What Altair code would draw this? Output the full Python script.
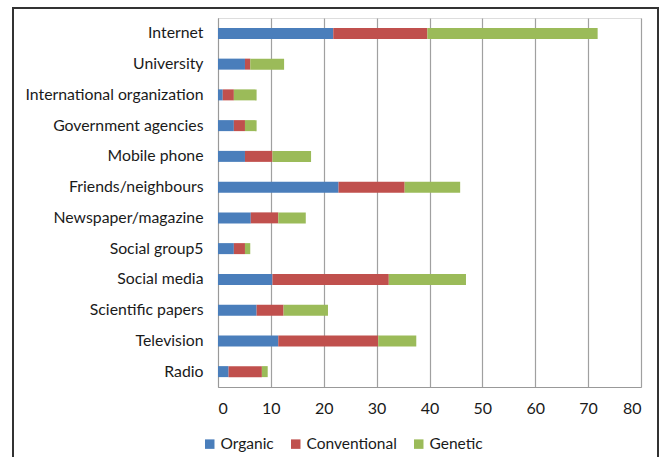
import altair as alt
import pandas as pd

categories = ["Internet", "University", "International organization", "Government agencies",
              "Mobile phone", "Friends/neighbours", "Newspaper/magazine", "Social group5",
              "Social media", "Scientific papers", "Television", "Radio"]
organic = [21.8, 5.1, 0.9, 3.0, 5.1, 22.8, 6.2, 3.0, 10.3, 7.3, 11.4, 2.0]
conventional = [17.8, 1.0, 2.1, 2.1, 5.2, 12.5, 5.2, 2.1, 22.0, 5.1, 18.9, 6.3]
genetic = [32.2, 6.4, 4.3, 2.2, 7.3, 10.5, 5.2, 1.0, 14.6, 8.4, 7.2, 1.1]
series = ["Organic", "Conventional", "Genetic"]
colors = ["#4a7ebb", "#c0504d", "#9bbb59"]

rows = []
for i, c in enumerate(categories):
    for s, vals in zip(series, [organic, conventional, genetic]):
        rows.append({"cat": c, "series": s, "value": vals[i], "order": series.index(s)})
df = pd.DataFrame(rows)

FONT = "Lato"

bars = alt.Chart(df).mark_bar(size=11).encode(
    y=alt.Y("cat:N", sort=categories, title=None,
            axis=alt.Axis(labelFontSize=15.8, labelColor="#1a1a1a", labelPadding=15,
                          ticks=False, domainColor="#999999", grid=False, labelFont=FONT)),
    x=alt.X("value:Q", stack="zero", title=None,
            scale=alt.Scale(domain=[0, 80], nice=False),
            axis=alt.Axis(values=list(range(0, 81, 10)), labelFontSize=16, labelColor="#1a1a1a",
                          labelPadding=13, ticks=False, domainColor="#999999", grid=True,
                          gridColor="#a0a0a0", gridWidth=1.2, labelFont=FONT)),
    color=alt.Color("series:N", sort=series,
                    scale=alt.Scale(domain=series, range=colors),
                    legend=alt.Legend(title=None, orient="none", direction="horizontal",
                                      legendX=-16, legendY=49 + 369,
                                      symbolType="square", symbolSize=90, symbolStrokeWidth=0,
                                      labelFontSize=15.5, labelFont=FONT, labelColor="#1a1a1a",
                                      columnPadding=14, labelOffset=3)),
    order=alt.Order("order:Q"),
)

frame = alt.Chart(df).mark_rect(fill=None, stroke="#333333", strokeWidth=1.5).encode(
    x=alt.value(-205), x2=alt.value(440), y=alt.value(-10), y2=alt.value(480)
)

chart = alt.layer(frame, bars).properties(
    width=423, height=369,
    autosize=alt.AutoSizeParams(type="none"),
    padding={"left": 218, "top": 18, "right": 19, "bottom": 70},
).configure_view(stroke=None).configure(font=FONT, background="white")

chart.save("out.html", embed_options={"renderer": "svg", "actions": False})
